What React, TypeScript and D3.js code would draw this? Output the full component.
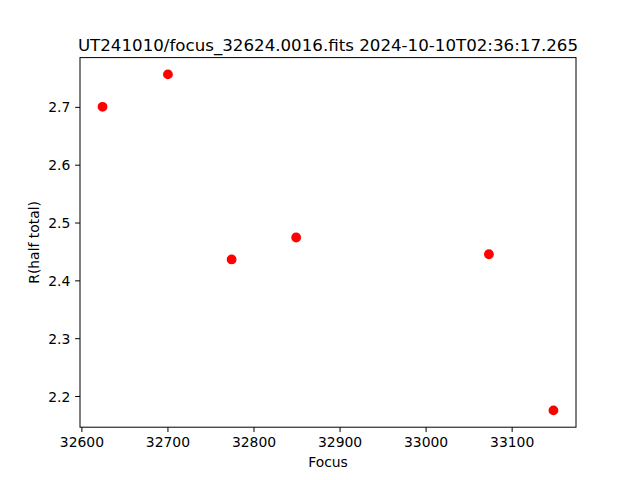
import React from "react";
import * as d3 from "d3";

const focusValues = [32624, 32700, 32774, 32849, 33073, 33148];
const halfTotal = [2.701, 2.757, 2.437, 2.475, 2.446, 2.176];
const xTicks = [32600, 32700, 32800, 32900, 33000, 33100];
const yTicks = [2.2, 2.3, 2.4, 2.5, 2.6, 2.7];
const title = "UT241010/focus_32624.0016.fits 2024-10-10T02:36:17.265";

const W = 640;
const H = 480;
const margin = { top: 57.6, right: 64, bottom: 52.8, left: 80 };

// matplotlib style 5% padding
const pad = (ext: [number, number]): [number, number] => {
  const d = (ext[1] - ext[0]) * 0.05;
  return [ext[0] - d, ext[1] + d];
};

export default function App() {
  const x = d3
    .scaleLinear()
    .domain(pad(d3.extent(focusValues) as [number, number]))
    .range([margin.left, W - margin.right]);
  const y = d3
    .scaleLinear()
    .domain(pad(d3.extent(halfTotal) as [number, number]))
    .range([H - margin.bottom, margin.top]);

  const x0 = margin.left;
  const x1 = W - margin.right;
  const y0 = H - margin.bottom;
  const y1 = margin.top;
  const tick = 4.86;
  const font = "DejaVu Sans, sans-serif";

  return (
    <svg
      width={W}
      height={H}
      style={{ position: "absolute", left: 0, top: 0, background: "#fff" }}
      fontFamily={font}
    >
      <rect x={0} y={0} width={W} height={H} fill="#fff" />
      {focusValues.map((f, i) => (
        <circle
          key={i}
          cx={x(f)}
          cy={y(halfTotal[i])}
          r={4.2}
          fill="#ff0000"
          stroke="#ff0000"
          strokeWidth={1.39}
        />
      ))}
      <rect
        x={x0}
        y={y1}
        width={x1 - x0}
        height={y0 - y1}
        fill="none"
        stroke="#000"
        strokeWidth={1}
      />
      {xTicks.map((t) => (
        <g key={t} transform={`translate(${x(t)},${y0})`}>
          <line y2={tick} stroke="#000" strokeWidth={1} />
          <text y={tick + 4.86 + 10.5} textAnchor="middle" fontSize={13.9} fill="#000">
            {t}
          </text>
        </g>
      ))}
      {yTicks.map((t) => (
        <g key={t} transform={`translate(${x0},${y(t)})`}>
          <line x2={-tick} stroke="#000" strokeWidth={1} />
          <text x={-tick - 4.86} dy="0.36em" textAnchor="end" fontSize={13.9} fill="#000">
            {t.toFixed(1)}
          </text>
        </g>
      ))}
      <text x={(x0 + x1) / 2} y={467} textAnchor="middle" fontSize={13.9} fill="#000">
        Focus
      </text>
      <text
        transform={`translate(39,${(y0 + y1) / 2}) rotate(-90)`}
        textAnchor="middle"
        fontSize={13.9}
        fill="#000"
      >
        R(half total)
      </text>
      <text x={(x0 + x1) / 2} y={51} textAnchor="middle" fontSize={16.67} fill="#000">
        {title}
      </text>
    </svg>
  );
}
